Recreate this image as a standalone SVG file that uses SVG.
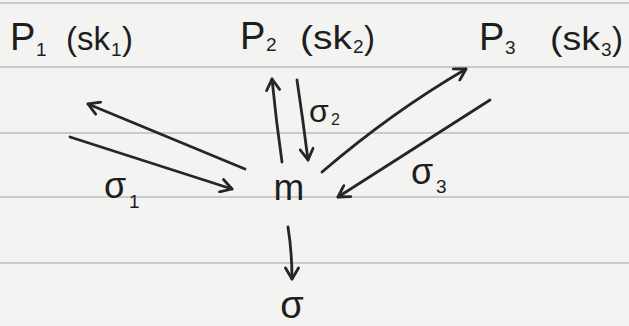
<svg xmlns="http://www.w3.org/2000/svg" width="629" height="326" viewBox="0 0 629 326">
<defs>
<style>
.paper{fill:#f3f3f2}
.rule{stroke:#bcbcbc;stroke-width:1.5}
.ink{fill:#1e1e1e;font-family:"Liberation Sans","DejaVu Sans",sans-serif}
.sub{font-size:19px}
.big{font-size:38px}
.par{font-size:33px}
.sig{font-size:36px}
.edge{fill:none;stroke:#262626;stroke-width:2.8;stroke-linecap:round;marker-end:url(#head)}
</style>
<marker id="head" viewBox="-13 -8 15 16" refX="0" refY="0" markerWidth="15" markerHeight="16" markerUnits="userSpaceOnUse" orient="auto">
<path d="M-11,-6.5 L0,0 L-11,6.5" fill="none" stroke="#262626" stroke-width="2.8" stroke-linecap="round" stroke-linejoin="round"/>
</marker>
</defs>
<rect class="paper" x="0" y="0" width="629" height="326"/>
<g id="paper-lines">
<line class="rule" x1="0" y1="3" x2="629" y2="3"/>
<line class="rule" x1="0" y1="67" x2="629" y2="67"/>
<line class="rule" x1="0" y1="133" x2="629" y2="133"/>
<line class="rule" x1="0" y1="197" x2="629" y2="197"/>
<line class="rule" x1="0" y1="263" x2="629" y2="263"/>
</g>
<g id="connectors">
<path class="edge" d="M245,169 L88,104"/>
<path class="edge" d="M70,137 L232,189"/>
<path class="edge" d="M282,162 Q276,120 272,79"/>
<path class="edge" d="M297,80 Q303,120 308,160"/>
<path class="edge" d="M322,172 Q392,112 466,69"/>
<path class="edge" d="M490,100 L338,197"/>
<path class="edge" d="M288,227 Q292,252 292,279"/>
<g id="edge-labels" class="ink">
<text x="104" y="198"><tspan class="sig">σ</tspan><tspan class="sub" x="129" y="208">1</tspan></text>
<text x="309" y="122"><tspan font-size="32">σ</tspan><tspan font-size="16" x="331" y="125">2</tspan></text>
<text x="411" y="184"><tspan class="sig">σ</tspan><tspan class="sub" x="436" y="193">3</tspan></text>
</g>
</g>
<g id="P1" class="ink">
<text x="10" y="50"><tspan class="big">P</tspan><tspan class="sub" x="36" y="56">1</tspan></text>
<text x="66" y="50"><tspan class="par" textLength="44" lengthAdjust="spacingAndGlyphs">(sk</tspan><tspan class="sub" x="111" y="56">1</tspan><tspan class="par" x="122" y="50">)</tspan></text>
</g>
<g id="P2" class="ink">
<text x="240" y="49"><tspan class="big">P</tspan><tspan class="sub" x="266" y="51">2</tspan></text>
<text x="300" y="49"><tspan class="par" textLength="52" lengthAdjust="spacingAndGlyphs">(sk</tspan><tspan class="sub" x="353" y="53">2</tspan><tspan class="par" x="364" y="49">)</tspan></text>
</g>
<g id="P3" class="ink">
<text x="479" y="50"><tspan class="big">P</tspan><tspan class="sub" x="505" y="54">3</tspan></text>
<text x="550" y="50"><tspan class="par" textLength="50" lengthAdjust="spacingAndGlyphs">(sk</tspan><tspan class="sub" x="601" y="56">3</tspan><tspan class="par" x="612" y="50">)</tspan></text>
</g>
<g id="m" class="ink">
<text x="289" y="200" font-size="37" text-anchor="middle">m</text>
</g>
<g id="sigma" class="ink">
<text x="292" y="318" font-size="38" text-anchor="middle">σ</text>
</g>
</svg>
